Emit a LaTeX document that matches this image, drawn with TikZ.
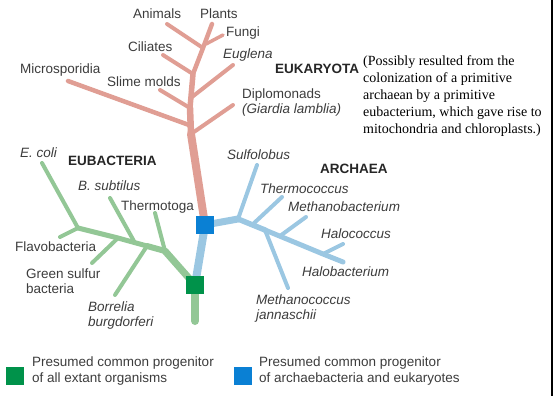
\documentclass[tikz,border=0pt]{standalone}
\usepackage{fontspec}
\setmainfont{Liberation Serif}
\setsansfont{Liberation Sans}

\definecolor{eukline}{HTML}{E09E94}
\definecolor{bacline}{HTML}{93C796}
\definecolor{arcline}{HTML}{9BC7E2}
\definecolor{ancgreen}{HTML}{00924A}
\definecolor{ancblue}{HTML}{0A80D4}
\definecolor{labelgray}{HTML}{3C3C3C}

\tikzset{
  lbl/.style={anchor=north west, inner sep=0pt, align=left, text=labelgray,
    font=\sffamily\fontsize{13.5}{14.5}\selectfont},
  spc/.style={lbl, font=\sffamily\itshape\fontsize{13.5}{14.5}\selectfont},
  grp/.style={lbl, text=black!85, font=\sffamily\bfseries\fontsize{13.5}{14.5}\selectfont},
  anc/.style={draw=none, minimum size=18pt, inner sep=0pt},
  euk/.style={draw=eukline, line width=4pt},
  bac/.style={draw=bacline, line width=4pt},
  arc/.style={draw=arcline, line width=4pt}
}

\begin{document}
\begin{tikzpicture}[x=1pt, y=-1pt, line cap=round, line join=round]
  \useasboundingbox (0,0) rectangle (557,396);

  % the two ancestors
  \coordinate (gp) at (195,285); \coordinate (bp) at (205,225);

  % eukaryota (top)
  \coordinate (rD) at (191,134); \coordinate (rM) at (189,125);
  \coordinate (rS) at (190,108); \coordinate (rE) at (192,97);
  \coordinate (rC) at (193,74); \coordinate (rT) at (203,48);
  \coordinate (rF) at (206,44);
  \coordinate (tMicro) at (68,81); \coordinate (tDiplo) at (233,105);
  \coordinate (tSlime) at (160,90); \coordinate (tEugl) at (233,65);
  \coordinate (tCil) at (163,55); \coordinate (tAnim) at (167,24);
  \coordinate (tPlant) at (212,24); \coordinate (tFungi) at (223,35);
  \draw[euk, line width=8pt] (bp) -- (rD); \draw[euk, line width=6.5pt] (rD)
  -- (rS); \draw[euk, line width=5.5pt] (rS) -- (rC); \draw[euk, line
  width=4.5pt] (rC) -- (rT) -- (tPlant);
  \draw[euk, line width=4.5pt] (rM) -- (tMicro); \draw[euk] (rD) -- (tDiplo);
  \draw[euk] (rS) -- (tSlime); \draw[euk] (rE) -- (tEugl); \draw[euk] (rC) --
  (tCil); \draw[euk] (rT) -- (tAnim); \draw[euk, line width=3.5pt] (rF) --
  (tFungi);

  % eubacteria (left)
  \coordinate (g0) at (195,321); \coordinate (g1) at (165,251);
  \coordinate (g2) at (147,246); \coordinate (g3) at (135,243);
  \coordinate (g4) at (118,238); \coordinate (g5) at (78,228);
  \coordinate (tThermo) at (155,213); \coordinate (tBorr) at (115,295);
  \coordinate (tBsub) at (110,198); \coordinate (tGreen) at (92,263);
  \coordinate (tFlavo) at (60,237); \coordinate (tEcoli) at (42,163);
  \draw[bac, line width=8pt] (gp) -- (g0); \draw[bac, line width=7pt] (gp)
  -- (g1); \draw[bac, line width=6pt] (g1) -- (g2); \draw[bac, line
  width=5pt] (g2) -- (g4) -- (g5);
  \draw[bac] (g1) -- (tThermo); \draw[bac] (g2) -- (tBorr); \draw[bac] (g3)
  -- (tBsub); \draw[bac] (g4) -- (tGreen); \draw[bac] (g5) -- (tFlavo);
  \draw[bac] (g5) -- (tEcoli);

  % archaea (right)
  \coordinate (b1) at (238,219); \coordinate (b2) at (252,225);
  \coordinate (b3) at (265,230); \coordinate (b4) at (280,236);
  \coordinate (b5) at (323,254);
  \coordinate (tSulf) at (257,165); \coordinate (tTcoc) at (282,197);
  \coordinate (tMcoc) at (288,288); \coordinate (tMbac) at (306,217);
  \coordinate (tHaloc) at (343,244); \coordinate (tHalob) at (343,262);
  \draw[arc, line width=8pt] (gp) -- (bp); \draw[arc, line width=7pt] (bp)
  -- (b1); \draw[arc, line width=5.5pt] (b1) -- (b3); \draw[arc, line
  width=5pt] (b3) -- (b5) -- (tHalob);
  \draw[arc] (b1) -- (tSulf); \draw[arc] (b2) -- (tTcoc); \draw[arc] (b3) --
  (tMcoc); \draw[arc] (b4) -- (tMbac); \draw[arc] (b5) -- (tHaloc);

  \node[anc, fill=ancgreen] (gsq) at (gp) {}; \node[anc, fill=ancblue]
  (bsq) at (bp) {};

  % labels, eukaryota
  \node[lbl] (animals) at (133,9) {Animals}; \node[lbl] (plants) at (200,9)
  {Plants}; \node[lbl] (fungi) at (226,27) {Fungi}; \node[lbl] (ciliates)
  at (128,42) {Ciliates}; \node[spc] (euglena) at (223,49) {Euglena};
  \node[lbl] (micro) at (20,64) {Microsporidia}; \node[lbl] (slime) at
  (107,77) {Slime molds}; \node[grp] (eukaryota) at (275,64) {EUKARYOTA};
  \node[lbl] (diplo) at (242,89) {Diplomonads\\\itshape(Giardia lamblia)};
  \node[anchor=north west, inner sep=0pt, align=left,
  font=\rmfamily\fontsize{14}{17}\selectfont] (note) at (363,55)
  {(Possibly resulted from the\\colonization of a primitive\\archaean by a
  primitive\\eubacterium, which gave rise to\\mitochondria and
  chloroplasts.)};

  % labels, eubacteria
  \node[spc] (ecoli) at (20,148) {E. coli}; \node[grp] (eubacteria) at
  (68,156) {EUBACTERIA}; \node[spc] (bsub) at (78,181) {B. subtilus};
  \node[lbl] (thermotoga) at (121,201) {Thermotoga}; \node[lbl] (flavo) at
  (15,242) {Flavobacteria}; \node[lbl] (green) at (26,269) {Green
  sulfur\\bacteria}; \node[spc] (borrelia) at (88,302)
  {Borrelia\\burgdorferi};

  % labels, archaea
  \node[spc] (sulfolobus) at (227,150) {Sulfolobus}; \node[grp] (archaea)
  at (320,164) {ARCHAEA}; \node[spc] (thermococcus) at (260,184)
  {Thermococcus}; \node[spc] (mbac) at (288,202) {Methanobacterium};
  \node[spc] (halococcus) at (321,229) {Halococcus}; \node[spc] (halobact)
  at (302,267) {Halobacterium}; \node[spc] (mcoc) at (256,295)
  {Methanococcus\\jannaschii};

  % legend (bottom)
  \node[anc, fill=ancgreen] (keygreen) at (15,376) {}; \node[lbl, font=
  \sffamily\fontsize{13.5}{16}\selectfont] (keygreentext) at (32,357)
  {Presumed common progenitor\\of all extant organisms};
  \node[anc, fill=ancblue] (keyblue) at (243,376) {}; \node[lbl, font=
  \sffamily\fontsize{13.5}{16}\selectfont] (keybluetext) at (259,357)
  {Presumed common progenitor\\of archaebacteria and eukaryotes};

  \draw[line width=2pt] (552,0) -- (552,396);
\end{tikzpicture}
\end{document}
